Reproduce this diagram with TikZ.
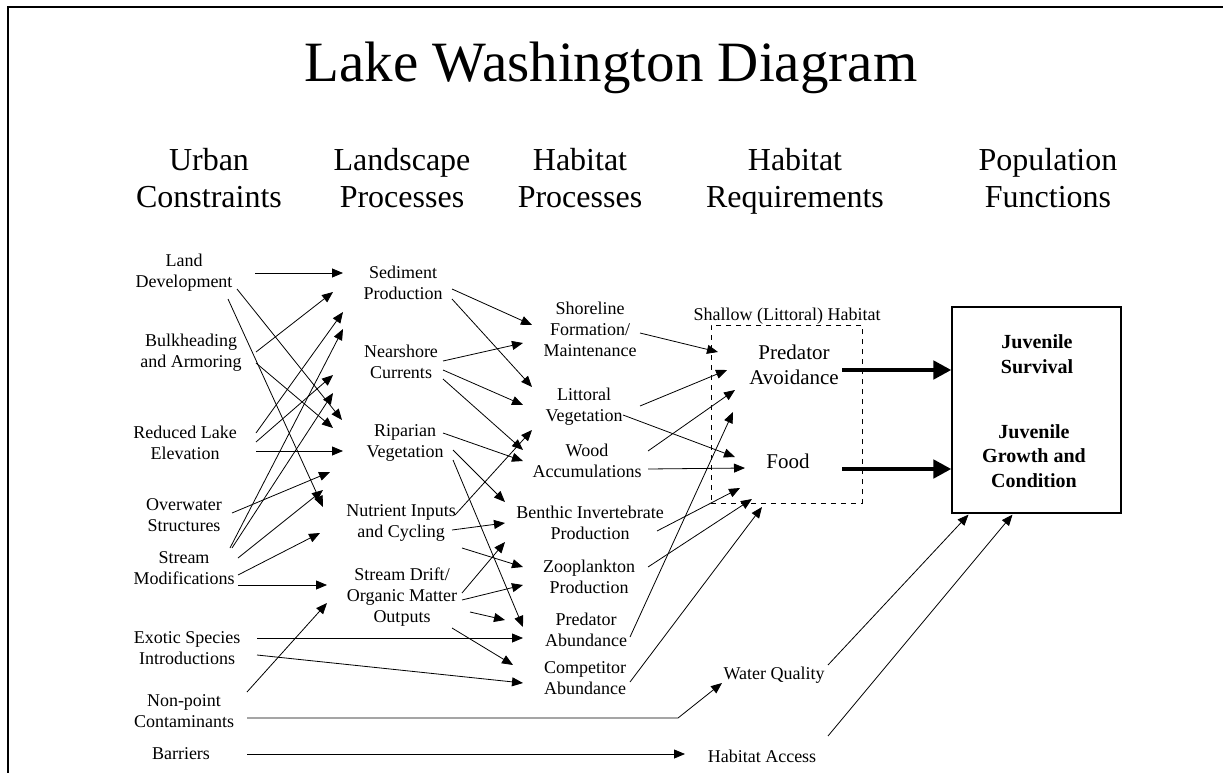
\documentclass[tikz,border=0pt]{standalone}
\usepackage{fontspec}
\setmainfont{Liberation Serif}
\usetikzlibrary{arrows.meta,calc}
\newcommand\cn[4]{\draw[arr] ($(#1)+(#2)$) -- ($(#3)+(#4)$);}
\begin{document}
\begin{tikzpicture}[x=1pt,y=-1pt,
  lbl/.style={align=center,inner sep=0pt,font=\fontsize{18}{21}\selectfont},
  big/.style={align=center,inner sep=0pt,font=\fontsize{21}{25}\selectfont},
  bld/.style={align=center,inner sep=0pt,font=\fontsize{20}{24.5}\selectfont\bfseries},
  head/.style={align=center,inner sep=0pt,font=\fontsize{32}{37}\selectfont},
  arr/.style={line width=0.8pt,-{Triangle[length=11pt,width=9pt]}},
  fatarr/.style={line width=4.5pt,-{Triangle[length=18pt,width=18pt]}},
]
\useasboundingbox (0,0) rectangle (1223,773);
\draw[line width=2.5pt] (8,773) -- (8,7) -- (1223,7);

% title and headers
\node[inner sep=0pt,font=\fontsize{57}{60}\selectfont] (title) at (611,68) {Lake Washington Diagram};
\node[head] (h1) at (209,178) {Urban\\Constraints};
\node[head] (h2) at (402,178) {Landscape\\Processes};
\node[head] (h3) at (580,178) {Habitat\\Processes};
\node[head] (h4) at (795,181) {Habitat\\Requirements};
\node[head] (h5) at (1048,178) {Population\\Functions};

% column 1
\node[lbl] (ld) at (184,273) {Land\\Development};
\node[lbl] (bk) at (191,353) {Bulkheading\\and Armoring};
\node[lbl] (rl) at (185,443) {Reduced Lake\\Elevation};
\node[lbl] (ow) at (184,515) {Overwater\\Structures};
\node[lbl] (sm) at (184,568) {Stream\\Modifications};
\node[lbl] (es) at (187,648) {Exotic Species\\Introductions};
\node[lbl] (np) at (184,711) {Non-point\\Contaminants};
\node[lbl] (ba) at (181,754) {Barriers};

% column 2
\node[lbl] (sp) at (403,283) {Sediment\\Production};
\node[lbl] (nc) at (401,362) {Nearshore\\Currents};
\node[lbl] (rv) at (405,443) {Riparian\\Vegetation};
\node[lbl] (ni) at (401,523) {Nutrient Inputs\\and Cycling};
\node[lbl] (sd) at (402,597) {Stream Drift/\\Organic Matter\\Outputs};

% column 3
\node[lbl] (sf) at (590,329) {Shoreline\\Formation/\\Maintenance};
\node[lbl] (lv) at (584,407) {Littoral\\Vegetation};
\node[lbl] (wa) at (587,461) {Wood\\Accumulations};
\node[lbl] (bi) at (590,523) {Benthic Invertebrate\\Production};
\node[lbl] (zp) at (589,577) {Zooplankton\\Production};
\node[lbl] (pa) at (586,630) {Predator\\Abundance};
\node[lbl] (ca) at (585,678) {Competitor\\Abundance};

% column 4
\node[draw,dash pattern=on 5pt off 5pt,line width=0.8pt,minimum width=151pt,minimum height=178pt,inner sep=0pt] (shallow) at (786.5,414) {};
\node[lbl] (shl) at (787,316) {Shallow (Littoral) Habitat};
\node[big] (pav) at (794,365) {Predator\\Avoidance};
\node[big] (fd) at (788,461) {Food};
\node[lbl] (wq) at (774,675) {Water Quality};
\node[lbl] (hac) at (762,756) {Habitat Access};

% column 5
\node[draw,line width=1.2pt,minimum width=169pt,minimum height=206pt,inner sep=0pt] (jb) at (1036.5,410) {};
\node[bld] (js) at (1037,354) {Juvenile\\Survival};
\node[bld] (jg) at (1034,456) {Juvenile\\Growth and\\Condition};

% column 1 -> 2
\cn{ld}{71,0}{sp}{-60,-10}
\cn{ld}{53,16}{rv}{-63,-23}
\cn{ld}{44,26}{ni}{-78,-16}
\cn{bk}{65,-1}{sp}{-70,9}
\cn{bk}{65,10}{rv}{-72,-15}
\cn{rl}{71,-10}{sp}{-60,29}
\cn{rl}{71,-1}{nc}{-68,13}
\cn{rl}{71,8}{rv}{-62,8}
\cn{ow}{48,-2}{rv}{-75,29}
\cn{sm}{46,-20}{sp}{-60,46}
\cn{sm}{48,-20}{nc}{-68,31}
\cn{sm}{54,-10}{ni}{-78,-33}
\cn{sm}{54,7}{ni}{-81,10}
\cn{sm}{54,17}{sd}{-75,-12}
\cn{np}{63,-19}{sd}{-75,6}
\cn{es}{70,-10}{pa}{-63,8}
\cn{es}{70,7}{ca}{-62,5}
\draw[arr] ($(np)+(63,7)$) -- ($(wq)+(-96,43)$) -- ($(wq)+(-52,8)$);
\cn{ba}{66,0}{hac}{-77,-2}

% column 2 -> 3
\cn{sp}{49,6}{sf}{-58,-4}
\cn{sp}{49,16}{lv}{-52,-20}
\cn{nc}{42,-1}{sf}{-67,14}
\cn{nc}{42,8}{lv}{-61,-2}
\cn{nc}{42,17}{wa}{-64,-11}
\cn{rv}{38,-10}{wa}{-64,0}
\cn{rv}{48,7}{bi}{-85,-21}
\cn{rv}{48,17}{pa}{-63,-3}
\cn{ni}{54,-8}{lv}{-52,23}
\cn{ni}{51,7}{bi}{-85,0}
\cn{ni}{61,25}{zp}{-66,-10}
\cn{sd}{60,-4}{bi}{-85,19}
\cn{sd}{60,3}{zp}{-66,8}
\cn{sd}{68,15}{pa}{-81,-10}
\cn{sd}{50,31}{ca}{-72,-13}

% column 3 -> 4
\cn{sf}{50,4}{pav}{-76,-13}
\cn{lv}{56,-1}{pav}{-67,5}
\cn{lv}{39,8}{fd}{-53,-4}
\cn{wa}{61,-10}{pav}{-59,25}
\cn{wa}{61,8}{fd}{-43,7}
\cn{bi}{67,8}{fd}{-48,27}
\cn{zp}{59,-10}{fd}{-36,38}
\cn{pa}{44,7}{pav}{-61,47}
\cn{ca}{45,4}{fd}{-26,46}

% column 4 -> 5
\draw[fatarr] ($(pav)+(48,5)$) -- ($(jb.west)+(0,-40)$);
\draw[fatarr] ($(fd)+(54,8)$) -- ($(jb.west)+(0,59)$);
\cn{wq}{54,-10}{jb.south}{-68,1}
\cn{hac}{66,-20}{jb.south}{-24,1}
\end{tikzpicture}
\end{document}
